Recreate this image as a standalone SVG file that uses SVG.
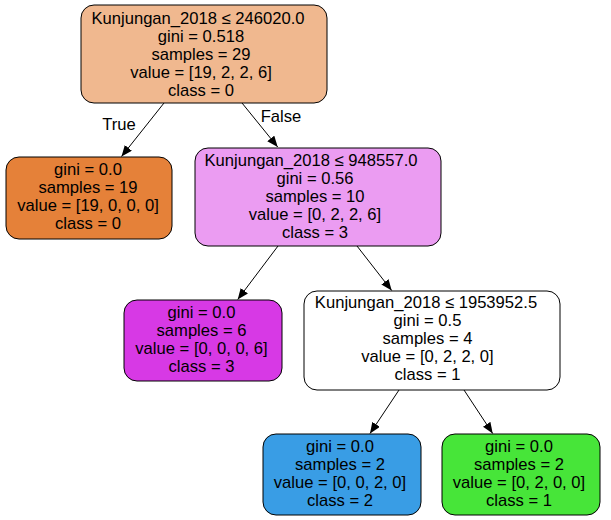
<svg xmlns="http://www.w3.org/2000/svg" width="611" height="520" viewBox="0 0 611 520">
<style>
.n rect{stroke:#000;stroke-width:1}
text{font-family:"Liberation Sans",Arial,sans-serif;font-size:16.6px;text-anchor:middle;fill:#000}
.e line{stroke:#000;stroke-width:1}
</style>
<defs>
<marker id="ah" viewBox="0 0 11 9" refX="11" refY="4.5" markerWidth="11" markerHeight="9" markerUnits="userSpaceOnUse" orient="auto">
<path d="M0,0 L11,4.5 L0,9 Z" fill="#000"/>
</marker>
</defs>
<rect width="611" height="520" fill="#fff"/>
<g class="e">
<line x1="164" y1="103" x2="121.5" y2="156.5" marker-end="url(#ah)"/>
<line x1="242" y1="103" x2="277.7" y2="147" marker-end="url(#ah)"/>
<line x1="278" y1="246" x2="237.7" y2="299.5" marker-end="url(#ah)"/>
<line x1="357" y1="246" x2="391.7" y2="290.5" marker-end="url(#ah)"/>
<line x1="399" y1="390" x2="370" y2="433.5" marker-end="url(#ah)"/>
<line x1="464" y1="390" x2="492.7" y2="433.5" marker-end="url(#ah)"/>
<text x="119" y="130">True</text>
<text x="281" y="122">False</text>
</g>
<g class="n" id="node0">
<rect x="81" y="5" width="246" height="98" rx="13" fill="#f0b88f"/>
<text x="198" y="24">Kunjungan_2018 ≤ 246020.0</text>
<text x="201" y="42">gini = 0.518</text>
<text x="201" y="60">samples = 29</text>
<text x="201" y="78">value = [19, 2, 2, 6]</text>
<text x="201" y="96">class = 0</text>
</g>
<g class="n" id="node1">
<rect x="6" y="157" width="166" height="82" rx="13" fill="#e58139"/>
<text x="88" y="175">gini = 0.0</text>
<text x="88" y="193">samples = 19</text>
<text x="88" y="211">value = [19, 0, 0, 0]</text>
<text x="88" y="229">class = 0</text>
</g>
<g class="n" id="node2">
<rect x="195" y="148" width="246" height="98" rx="13" fill="#eb9cf2"/>
<text x="311" y="166">Kunjungan_2018 ≤ 948557.0</text>
<text x="315" y="184">gini = 0.56</text>
<text x="315" y="202">samples = 10</text>
<text x="315" y="220">value = [0, 2, 2, 6]</text>
<text x="315" y="238">class = 3</text>
</g>
<g class="n" id="node3">
<rect x="124" y="300" width="158" height="81" rx="13" fill="#d739e5"/>
<text x="201.5" y="318">gini = 0.0</text>
<text x="201.5" y="336">samples = 6</text>
<text x="201.5" y="354">value = [0, 0, 0, 6]</text>
<text x="201.5" y="372">class = 3</text>
</g>
<g class="n" id="node4">
<rect x="304" y="291" width="256" height="99" rx="13" fill="#ffffff"/>
<text x="426" y="308">Kunjungan_2018 ≤ 1953952.5</text>
<text x="427.5" y="326">gini = 0.5</text>
<text x="427.5" y="344">samples = 4</text>
<text x="427.5" y="362">value = [0, 2, 2, 0]</text>
<text x="427.5" y="380">class = 1</text>
</g>
<g class="n" id="node5">
<rect x="263" y="434" width="158" height="81" rx="13" fill="#399de5"/>
<text x="340" y="452">gini = 0.0</text>
<text x="340" y="470">samples = 2</text>
<text x="340" y="488">value = [0, 0, 2, 0]</text>
<text x="340" y="506">class = 2</text>
</g>
<g class="n" id="node6">
<rect x="442" y="434" width="158" height="81" rx="13" fill="#47e539"/>
<text x="519" y="452">gini = 0.0</text>
<text x="519" y="470">samples = 2</text>
<text x="519" y="488">value = [0, 2, 0, 0]</text>
<text x="519" y="506">class = 1</text>
</g>
</svg>
